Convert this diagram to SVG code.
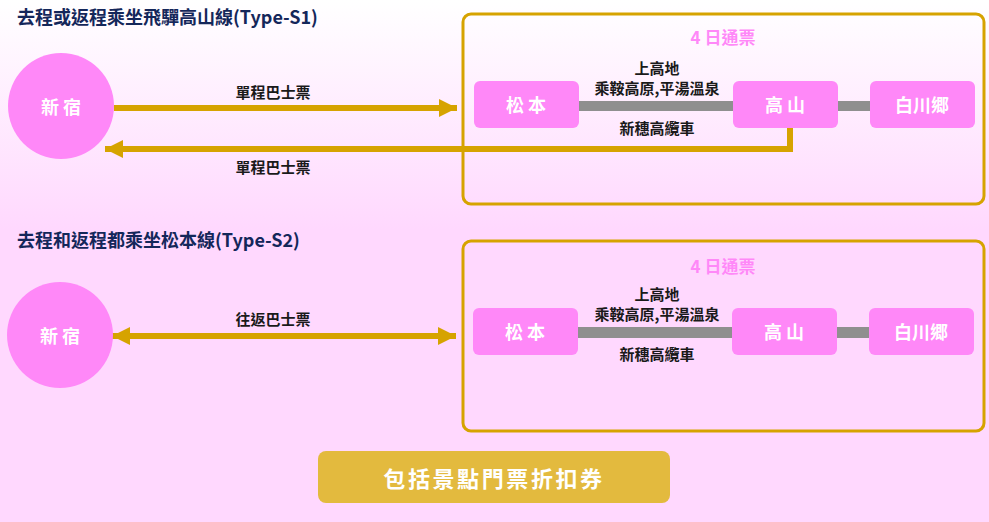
<svg xmlns="http://www.w3.org/2000/svg" width="989" height="522" viewBox="0 0 989 522">
<defs>
<linearGradient id="bg" x1="0" y1="0" x2="0" y2="522" gradientUnits="userSpaceOnUse">
<stop offset="0" stop-color="#FFFFFF"/>
<stop offset="0.44" stop-color="#FFD8FE"/>
<stop offset="1" stop-color="#FFD8FE"/>
</linearGradient>
<marker id="ah" viewBox="0 0 18 18" refX="18" refY="9" markerWidth="18" markerHeight="18" markerUnits="userSpaceOnUse" orient="auto-start-reverse">
<path d="M0,0 L18,9 L0,18 Z" fill="#D6A300"/>
</marker>
<style>
.title{font-family:"Noto Sans CJK TC","Noto Sans",sans-serif;font-weight:700;font-size:18px;fill:#14275A}
.node{fill:#FF88F8}
.ntext{font-family:"Noto Sans CJK TC",sans-serif;font-weight:700;font-size:18px;fill:#FFFFFF;text-anchor:middle;dominant-baseline:central}
.lbl{font-family:"Noto Sans CJK TC",sans-serif;font-weight:700;font-size:15px;fill:#1A1A1A;text-anchor:middle;dominant-baseline:central}
.pass{font-family:"Noto Sans CJK TC",sans-serif;font-weight:700;font-size:17px;fill:#FF88F8;text-anchor:middle;dominant-baseline:central}
.box{fill:none;stroke:#D6A300;stroke-width:3}
.bus{fill:none;stroke:#D6A300;stroke-width:6}
.rail{fill:#8F8F8F}
</style>
</defs>
<rect x="0" y="0" width="989" height="522" fill="url(#bg)"/>

<text class="title" x="17" y="24">去程或返程乘坐飛驒高山線(Type-S1)</text>
<text class="title" x="17" y="247">去程和返程都乘坐松本線(Type-S2)</text>

<rect id="pass1" class="box" x="463" y="14" width="521" height="190" rx="8"/>
<rect id="pass2" class="box" x="463" y="241" width="521" height="190" rx="8"/>
<text class="pass" x="723" y="36">4 日通票</text>
<text class="pass" x="723" y="265">4 日通票</text>

<g id="connectors">
<rect class="rail" x="578" y="101" width="156" height="10"/>
<rect class="rail" x="837" y="101" width="34" height="10"/>
<rect class="rail" x="577" y="327" width="156" height="11"/>
<rect class="rail" x="837" y="327" width="34" height="11"/>
<line class="bus" x1="114" y1="108" x2="457" y2="108" marker-end="url(#ah)"/>
<polyline class="bus" points="790,127 790,149 105,149" marker-end="url(#ah)"/>
<line class="bus" x1="112" y1="336" x2="456" y2="336" marker-start="url(#ah)" marker-end="url(#ah)"/>
<text class="lbl" x="273" y="91">單程巴士票</text>
<text class="lbl" x="273" y="166">單程巴士票</text>
<text class="lbl" x="273" y="318">往返巴士票</text>
<text class="lbl" x="657" y="67">上高地</text>
<text class="lbl" x="657" y="87">乘鞍高原,平湯溫泉</text>
<text class="lbl" x="657" y="127">新穗高纜車</text>
<text class="lbl" x="657" y="293">上高地</text>
<text class="lbl" x="657" y="313">乘鞍高原,平湯溫泉</text>
<text class="lbl" x="657" y="353">新穗高纜車</text>
</g>

<g id="shinjuku1"><circle class="node" cx="61" cy="106" r="53"/><text class="ntext" x="61" y="106">新 宿</text></g>
<g id="shinjuku2"><circle class="node" cx="60" cy="335" r="53"/><text class="ntext" x="60" y="335">新 宿</text></g>

<g id="matsumoto1"><rect class="node" x="474" y="81" width="105" height="47" rx="6"/><text class="ntext" x="526" y="104">松 本</text></g>
<g id="takayama1"><rect class="node" x="733" y="81" width="105" height="47" rx="6"/><text class="ntext" x="785" y="104">高 山</text></g>
<g id="shirakawago1"><rect class="node" x="870" y="81" width="105" height="47" rx="6"/><text class="ntext" x="922" y="104">白川郷</text></g>

<g id="matsumoto2"><rect class="node" x="473" y="308" width="105" height="47" rx="6"/><text class="ntext" x="525" y="331">松 本</text></g>
<g id="takayama2"><rect class="node" x="732" y="308" width="105" height="47" rx="6"/><text class="ntext" x="784" y="331">高 山</text></g>
<g id="shirakawago2"><rect class="node" x="869" y="308" width="105" height="47" rx="6"/><text class="ntext" x="921" y="331">白川郷</text></g>

<g id="coupon"><rect x="318" y="451" width="352" height="52" rx="8" fill="#E3BA3E"/><text x="494" y="477" font-family="Noto Sans CJK TC, sans-serif" font-weight="700" font-size="22" fill="#FFFFFF" text-anchor="middle" dominant-baseline="central" letter-spacing="2.6">包括景點門票折扣券</text></g>
</svg>
